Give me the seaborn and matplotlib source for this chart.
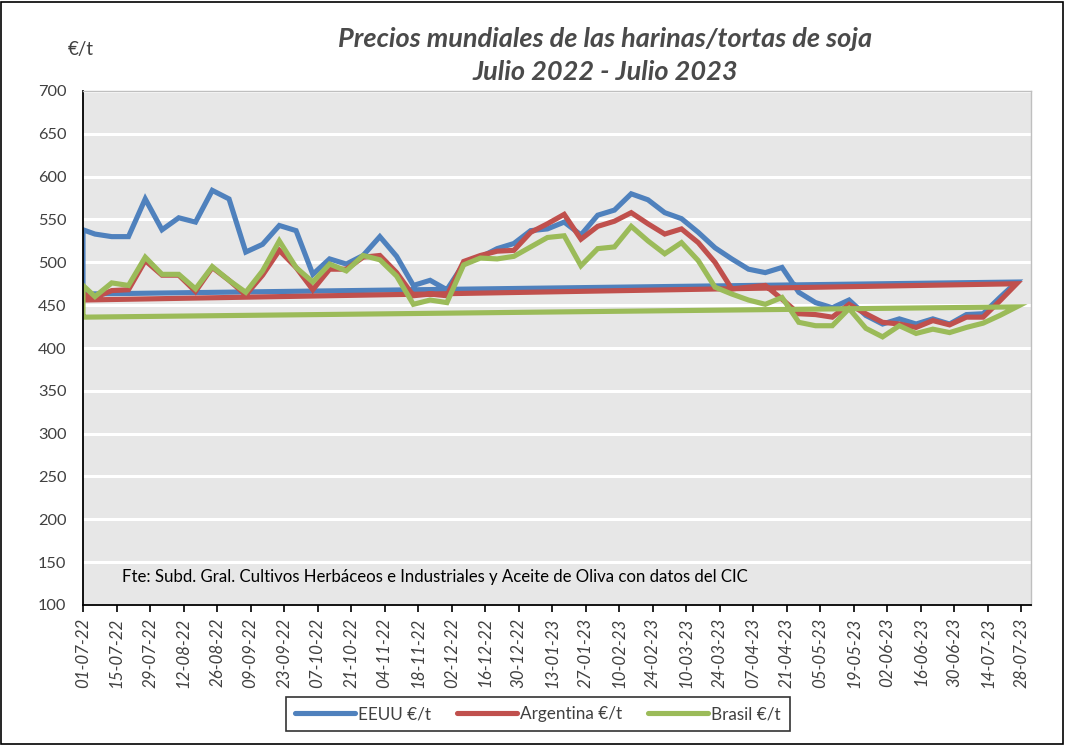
import matplotlib
matplotlib.use("Agg")
import matplotlib.pyplot as plt
import matplotlib.dates as mdates
from matplotlib.lines import Line2D
from matplotlib.patches import Rectangle
import seaborn as sns
import pandas as pd

# ---------------- data ----------------
axis_start = "2022-07-01"
axis_end = "2023-08-01"
tick_first = "2022-07-01"
tick_last = "2023-07-28"
week_first = "2022-07-06"
n_weeks = 56

series_names = ["EEUU €/t", "Argentina €/t", "Brasil €/t"]

eeuu_start = 538
eeuu_close = 463
eeuu = [533, 530, 530, 574, 538, 552, 547, 584, 574, 512, 521,
        543, 537, 486, 504, 498, 508, 530, 507, 473, 479, 468,
        498, 506, 516, 522, 537, 539, 547, 532, 555, 561, 580, 573,
        558, 551, 535, 517, 504, 492, 488, 494, 465, 453, 447,
        456, 438, 428, 434, 428, 434, 428, 439, 440, 459, 477]

arg_start = 463
arg_close = 456
argentina = [459, 467, 468, 502, 485, 485, 466, 494, 479, 462, 485,
             514, 494, 468, 492, 492, 506, 508, 488, 461, 463, 461,
             501, 508, 513, 514, 535, 545, 556, 527, 542, 548, 558, 545,
             533, 539, 523, 500, 469, 471, 473, 457, 440, 439, 436,
             451, 440, 430, 428, 424, 432, 427, 436, 436, 455, 475]

bra_start = 473
bra_close = 436
brasil = [460, 476, 473, 506, 486, 486, 469, 495, 479, 465, 490,
          525, 494, 477, 498, 490, 508, 503, 484, 451, 456, 453,
          497, 505, 504, 507, 518, 529, 531, 496, 516, 518, 542, 525,
          510, 523, 502, 471, 463, 456, 451, 459, 430, 426, 426,
          446, 423, 413, 426, 417, 422, 418, 424, 429, 438, 448]

colors = ["#4F81BD", "#C0504D", "#9BBB59"]

title_lines = ["Precios mundiales de las harinas/tortas de soja", "Julio 2022 - Julio 2023"]
unit_label = "€/t"
source_text = "Fte: Subd. Gral. Cultivos Herbáceos e Industriales y Aceite de Oliva con datos del CIC"

# ---------------- build table ----------------
weeks = pd.date_range(week_first, periods=n_weeks, freq="7D")
d0 = pd.Timestamp(axis_start)
rows = []
for name, start, close, vals in [(series_names[0], eeuu_start, eeuu_close, eeuu),
                                 (series_names[1], arg_start, arg_close, argentina),
                                 (series_names[2], bra_start, bra_close, brasil)]:
    xs = [d0, d0] + list(weeks) + [d0]
    ys = [close, start] + list(vals) + [close]
    for i, (x, y) in enumerate(zip(xs, ys)):
        rows.append({"serie": name, "fecha": x, "valor": y, "orden": i})
df = pd.DataFrame(rows)

# ---------------- figure ----------------
sns.set_theme(style="white")
plt.rcParams["font.family"] = ["Lato", "DejaVu Sans"]

W, H = 1065, 746
fig = plt.figure(figsize=(W / 100, H / 100), dpi=100)
ax = fig.add_axes([83 / W, 1 - 605 / H, (1031 - 83) / W, (605 - 91) / H])
ax.set_facecolor("#E7E7E7")

for name, col in zip(series_names, colors):
    sub = df[df["serie"] == name].sort_values("orden")
    sns.lineplot(data=sub, x="fecha", y="valor", sort=False, estimator=None,
                 color=col, linewidth=3.7, ax=ax, legend=False,
                 solid_joinstyle="miter", solid_capstyle="butt")

ax.set_xlim(pd.Timestamp(axis_start), pd.Timestamp(axis_end))
ax.set_ylim(100, 700)
ax.set_yticks(range(100, 701, 50))
ax.yaxis.grid(True, color="white", linewidth=2.2)
ax.set_axisbelow(True)
ticks = pd.date_range(tick_first, tick_last, freq="14D")
ax.set_xticks(ticks)
ax.xaxis.set_major_formatter(mdates.DateFormatter("%d-%m-%y"))
ax.set_xlabel("")
ax.set_ylabel("")

for s in ["top", "right"]:
    ax.spines[s].set_color("#BFBFBF")
    ax.spines[s].set_linewidth(1.0)
for s in ["left", "bottom"]:
    ax.spines[s].set_color("black")
    ax.spines[s].set_linewidth(1.3)

ax.tick_params(axis="x", which="major", direction="out", length=5, width=1.2,
               color="black", labelsize=12.2, labelcolor="#404040", rotation=90, pad=4,
               bottom=True)
ax.tick_params(axis="y", length=0, labelsize=11.8, labelcolor="#404040", pad=12)
for lab in ax.get_xticklabels():
    lab.set_fontstyle("italic")

# title & labels
fig.text(605 / W, 1 - 39 / H, title_lines[0], ha="center", va="center",
         fontsize=19.5, fontweight="bold", fontstyle="italic", color="#4A4A4A")
fig.text(605 / W, 1 - 72 / H, title_lines[1], ha="center", va="center",
         fontsize=19.5, fontweight="bold", fontstyle="italic", color="#4A4A4A")
fig.text(68 / W, 1 - 50 / H, unit_label, ha="left", va="center",
         fontsize=13.5, color="#404040")
ax.text(122 / W, 1 - 577 / H, source_text, transform=fig.transFigure,
        ha="left", va="center", fontsize=12.1, color="black")

handles = [Line2D([0], [0], color=c, linewidth=3.7, solid_capstyle="round") for c in colors]
leg = fig.legend(handles, series_names, loc="center", bbox_to_anchor=(538 / W, 1 - 714 / H),
                 ncol=3, frameon=True, fancybox=False, edgecolor="black",
                 fontsize=12.3, handlelength=3.5, handletextpad=0.2, columnspacing=1.5,
                 borderpad=0.55)
leg.get_frame().set_linewidth(1.2)
for t in leg.get_texts():
    t.set_color("#404040")

# outer chart border
fig.patches.append(Rectangle((1 / W, 2 / H), (W - 3) / W, (H - 4) / H,
                             transform=fig.transFigure, fill=False,
                             edgecolor="black", linewidth=1.2))

fig.savefig("out.png", dpi=100)
